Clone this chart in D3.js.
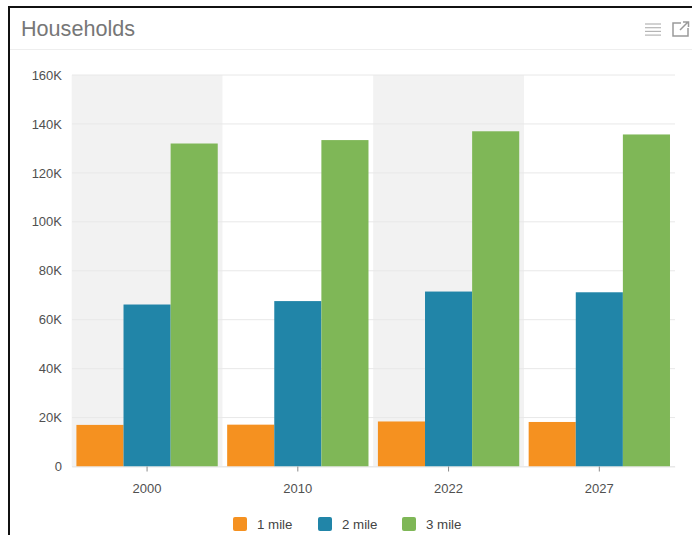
<!DOCTYPE html>
<html>
<head>
<meta charset="utf-8">
<script src="https://cdn.jsdelivr.net/npm/d3@7"></script>
<style>
  html, body { margin: 0; padding: 0; background: #fff; }
  svg { display: block; font-family: "Liberation Sans", Arial, sans-serif; }
</style>
</head>
<body>
<script>
const years = ["2000", "2010", "2022", "2027"];
const seriesNames = ["1 mile", "2 mile", "3 mile"];
const mile1 = [17000, 17100, 18400, 18200];
const mile2 = [66200, 67600, 71500, 71200];
const mile3 = [132000, 133400, 137000, 135700];
const allSeries = [mile1, mile2, mile3];
const colors = ["#f59120", "#2185a8", "#7fb757"];
const yTicks = [0, 20000, 40000, 60000, 80000, 100000, 120000, 140000, 160000];

const width = 692, height = 535;

const svg = d3.select("body").append("svg")
    .attr("width", width)
    .attr("height", height);

// panel frame
svg.append("rect").attr("x", 0).attr("y", 0).attr("width", width).attr("height", height).attr("fill", "#fff");
svg.append("rect").attr("x", 8).attr("y", 6).attr("width", width - 8).attr("height", 2).attr("fill", "#111");
svg.append("rect").attr("x", 8).attr("y", 6).attr("width", 2).attr("height", height - 6).attr("fill", "#111");
svg.append("rect").attr("x", 10).attr("y", 49).attr("width", width - 10).attr("height", 1).attr("fill", "#eeeeee");

svg.append("text")
    .attr("x", 21)
    .attr("y", 36)
    .attr("font-size", 21.6)
    .attr("fill", "#777")
    .text("Households");

// header icons
const menuIcon = svg.append("g").attr("stroke", "#b5b5b5").attr("stroke-width", 1.2);
d3.range(4).forEach(i => {
    menuIcon.append("line").attr("x1", 645).attr("x2", 661).attr("y1", 24 + i * 3.7).attr("y2", 24 + i * 3.7);
});
svg.append("path")
    .attr("d", "M681 23H673V36H688V28M680 30L688 22M683 22H688.500V27")
    .attr("fill", "none")
    .attr("stroke", "#9a9a9a")
    .attr("stroke-width", 1.5);

const x = d3.scaleBand().domain(years).range([71.7, 674.7]);
const xInner = d3.scaleBand().domain(seriesNames)
    .range([0, x.bandwidth()])
    .paddingOuter(0.1)
    .paddingInner(0);
const y = d3.scaleLinear().domain([0, 160000]).range([466.5, 75]);

// alternating bands
svg.append("g").selectAll("rect")
    .data(years.filter((d, i) => i % 2 === 0))
    .join("rect")
    .attr("x", d => x(d))
    .attr("y", y(160000))
    .attr("width", x.bandwidth())
    .attr("height", y(0) - y(160000))
    .attr("fill", "#f2f2f2");

// gridlines
svg.append("g").selectAll("line")
    .data(yTicks)
    .join("line")
    .attr("x1", 72)
    .attr("x2", 675)
    .attr("y1", d => y(d))
    .attr("y2", d => y(d))
    .attr("stroke", "#e8e8e8")
    .attr("stroke-width", 1);

// bars
const groups = svg.append("g").selectAll("g")
    .data(seriesNames)
    .join("g")
    .attr("fill", (d, i) => colors[i]);

groups.selectAll("rect")
    .data((d, i) => years.map((yr, j) => ({ year: yr, name: d, value: allSeries[i][j] })))
    .join("rect")
    .attr("x", d => x(d.year) + xInner(d.name))
    .attr("y", d => y(d.value))
    .attr("width", xInner.bandwidth())
    .attr("height", d => y(0) - y(d.value));

// axes
const yAxis = d3.axisLeft(y)
    .tickValues(yTicks)
    .tickSize(0)
    .tickPadding(10)
    .tickFormat(d => d === 0 ? "0" : (d / 1000) + "K");
const yG = svg.append("g").attr("transform", "translate(72,0)").call(yAxis);
yG.select(".domain").remove();
yG.selectAll("text").attr("font-size", 13).attr("fill", "#505050").attr("font-family", "Liberation Sans");

const xAxis = d3.axisBottom(x).tickSizeInner(5).tickSizeOuter(0).tickPadding(12);
const xG = svg.append("g").attr("transform", "translate(0,466.5)").call(xAxis);
xG.select(".domain").attr("stroke", "#e8e8e8");
xG.selectAll(".tick line").attr("stroke", "#8a8a8a");
xG.selectAll("text").attr("font-size", 13).attr("fill", "#505050").attr("font-family", "Liberation Sans");

// legend
const legendX = d3.scaleOrdinal().domain(seriesNames).range([233, 318, 402]);
const legend = svg.append("g").selectAll("g")
    .data(seriesNames)
    .join("g")
    .attr("transform", d => `translate(${legendX(d)},517)`);
legend.append("rect")
    .attr("width", 14)
    .attr("height", 14)
    .attr("rx", 2)
    .attr("fill", (d, i) => colors[i]);
legend.append("text")
    .attr("x", 24)
    .attr("y", 12)
    .attr("font-size", 13.3)
    .attr("fill", "#444")
    .text(d => d);
</script>
</body>
</html>
